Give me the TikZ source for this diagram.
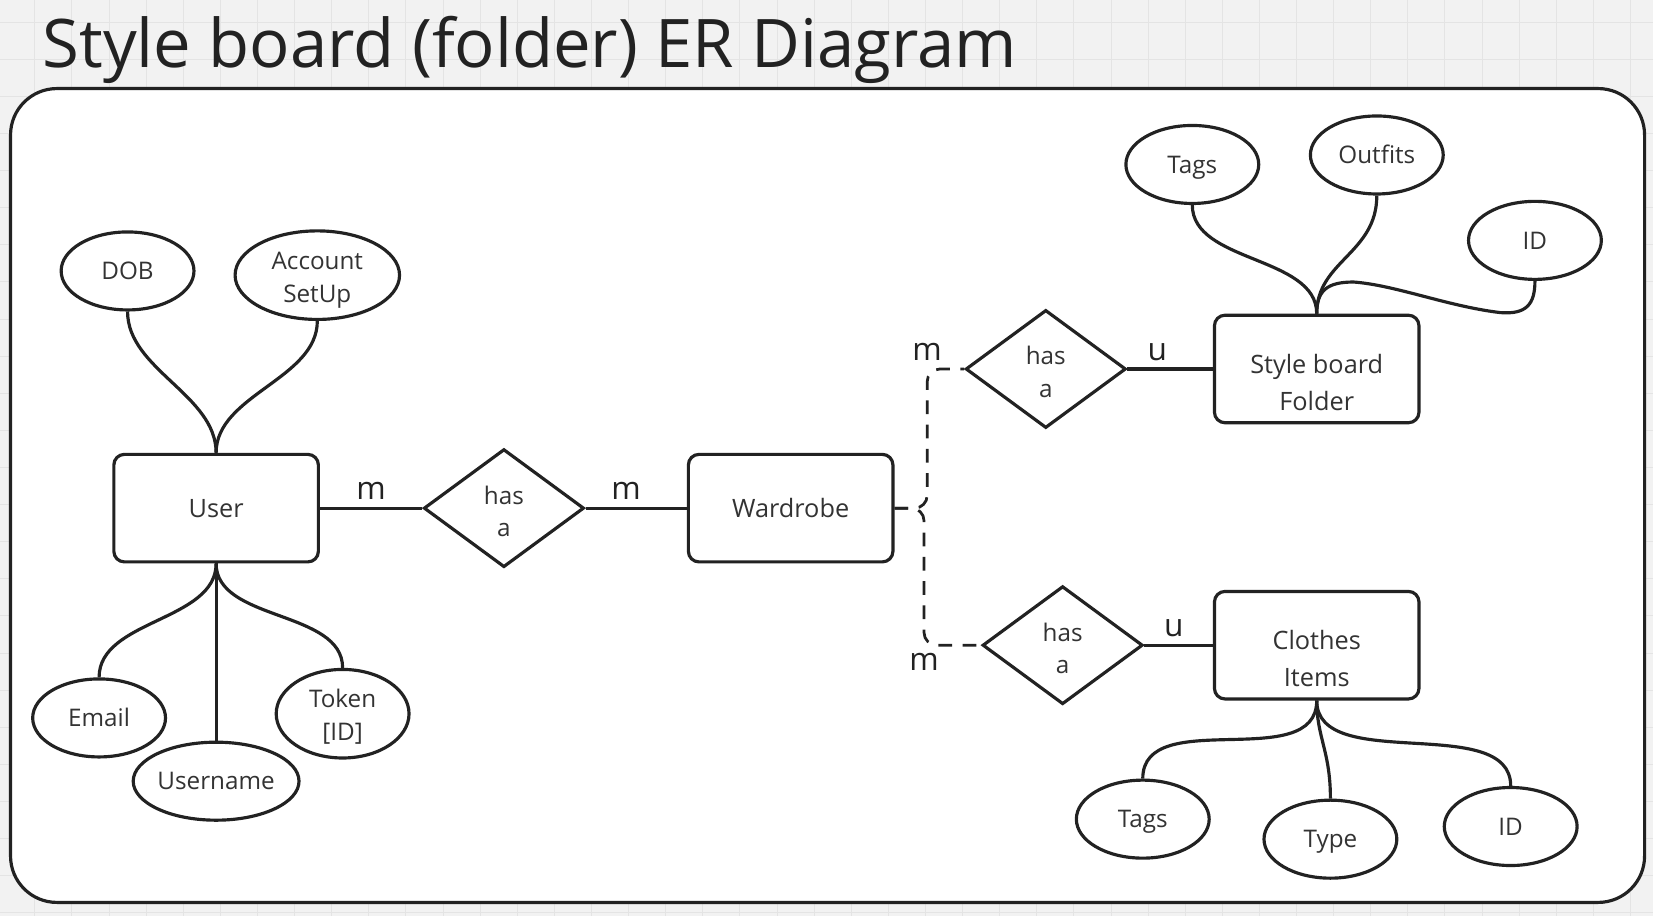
\documentclass[tikz,border=0pt]{standalone}
\usepackage{fontspec}
\setmainfont{Open Sans}
\usetikzlibrary{shapes.geometric, calc}

\definecolor{ink}{HTML}{222222}
\definecolor{txt}{HTML}{333333}
\definecolor{board}{HTML}{F2F2F2}
\definecolor{gridln}{HTML}{E4E4E4}

\tikzset{
	entity/.style={draw=ink, line width=1.5pt, rounded corners=5pt, fill=white,
		minimum width=97pt, minimum height=51pt, inner sep=0pt, align=center,
		text=txt, font=\fontsize{12}{17.5}\selectfont},
	attrib/.style={draw=ink, ellipse, line width=1.5pt, fill=white,
		minimum width=63pt, minimum height=37pt, inner sep=0pt, align=center,
		text height=8.2pt, text depth=0pt,
		text=txt, font=\fontsize{11.5}{16}\selectfont},
	relation/.style={draw=ink, diamond, line width=1.5pt, fill=white,
		minimum width=76pt, minimum height=56pt, inner sep=0pt, align=center,
		text height=27.2pt, text depth=0pt,
		text=txt, font=\fontsize{11.5}{15.5}\selectfont},
	twoline/.style={text height=#1, text depth=0pt},
	erline/.style={draw=ink, line width=1.5pt},
	dashline/.style={erline, line width=1.3pt, dash pattern=on 6.5pt off 5pt, rounded corners=6pt},
	card/.style={text=ink, font=\fontsize{15}{18}\selectfont},
}

\begin{document}
\begin{tikzpicture}[x=0.5pt, y=-0.5pt]
		\useasboundingbox (0,0) rectangle (1568,869);
		\clip (0,0) rectangle (1568,869);

		% Board background with its grid
		\fill[board] (0,0) rectangle (1568,869);
		\foreach \k in {0,...,45}
			\draw[gridln, line width=0.4pt] ({-2.2+35.2*\k},0) -- ({-2.2+35.2*\k},869);
		\foreach \k in {0,...,25}
			\draw[gridln, line width=0.4pt] (0,{-14.2+35.2*\k}) -- (1568,{-14.2+35.2*\k});

		% Title and frame
		\node[anchor=base west, text=ink, inner sep=0pt, font=\fontsize{31.8}{40}\selectfont] (title) at (40,64) {Style board (folder) ER Diagram};
		\draw[ink, line width=1.5pt, fill=white, rounded corners=22pt] (10,84) rectangle (1560,856);

		% Entities
		\node[entity] (user) at (205,482) {User};
		\node[entity] (ward) at (750,482) {Wardrobe};
		\node[entity, twoline=39.5pt] (sbf) at (1249,350) {Style board\\Folder};
		\node[entity, twoline=39.5pt] (items) at (1249,612) {Clothes\\Items};

		% Relations
		\node[relation] (hasW) at (478,482) {has\\a};
		\node[relation] (hasF) at (992,350) {has\\a};
		\node[relation] (hasI) at (1008,612) {has\\a};

		% User attributes
		\node[attrib] (dob) at (121,257) {DOB};
		\node[attrib, twoline=26.2pt, minimum width=78pt, minimum height=42pt] (acct) at (301,261) {Account\\SetUp};
		\node[attrib] (email) at (94,681) {Email};
		\node[attrib, minimum width=75pt] (uname) at (205,741) {Username};
		\node[attrib, twoline=25.7pt, minimum height=42pt] (token) at (325,677) {Token\\{[ID]}};

		% Style board attributes
		\node[attrib] (ftags) at (1131,156) {Tags};
		\node[attrib] (outfits) at (1306,147) {Outfits};
		\node[attrib] (fid) at (1456,228) {ID};

		% Clothes attributes
		\node[attrib] (itags) at (1084,777) {Tags};
		\node[attrib] (itype) at (1262,796) {Type};
		\node[attrib] (iid) at (1433,784) {ID};

		% Relation lines
		\draw[erline] (user.east) -- node[card, midway, above] {m} (hasW.west);
		\draw[erline] (hasW.east) -- node[card, pos=0.4, above] {m} (ward.west);
		\draw[erline] (hasF.east) -- node[card, pos=0.35, above] {u} (sbf.west);
		\draw[erline] (hasI.east) -- node[card, pos=0.43, above] {u} (items.west);
		\draw[dashline] (ward.east) -- ++(31,0) |- node[card, pos=0.5, above] {m} (hasF.west);
		\draw[dashline] (ward.east) -- ++(28,0) |- node[card, pos=0.5, below] {m} (hasI.west);

		% Attribute lines
		\draw[erline] (user.north) .. controls +(0,-55) and +(0,55) .. (dob.south);
		\draw[erline] (user.north) .. controls +(0,-55) and +(0,55) .. (acct.south);
		\draw[erline] (user.south) .. controls +(0,55) and +(0,-55) .. (email.north);
		\draw[erline] (user.south) -- (uname.north);
		\draw[erline] (user.south) .. controls +(0,55) and +(0,-55) .. (token.north);

		\draw[erline] (sbf.north) .. controls +(0,-55) and +(0,55) .. (ftags.south);
		\draw[erline] (sbf.north) .. controls +(0,-50) and +(0,55) .. (outfits.south);
		\draw[erline] (sbf.north) .. controls +(0,-22) and +(-25,0) .. ($(sbf.north)+(35,-30)$)
			.. controls +(40,3) and +(-50,-6) .. ($(fid.south)+(-33,30)$)
			.. controls +(25,2) and +(0,22) .. (fid.south);

		\draw[erline] (items.south) .. controls +(0,70) and +(0,-70) .. (itags.north);
		\draw[erline] (items.south) .. controls +(0,35) and +(0,-45) .. (itype.north);
		\draw[erline] (items.south) .. controls +(0,70) and +(0,-70) .. (iid.north);

	\end{tikzpicture}
\end{document}
